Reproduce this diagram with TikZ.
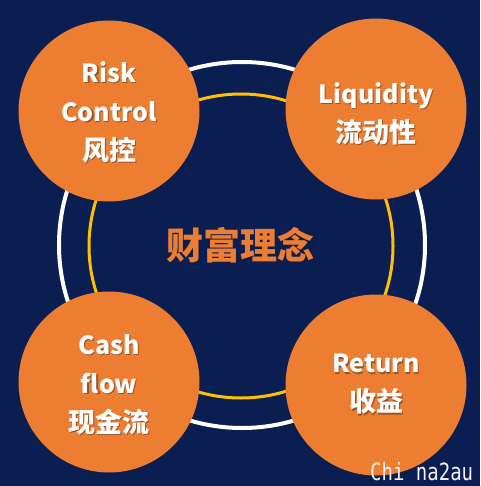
\documentclass[tikz,border=0pt]{standalone}
\usepackage{fontspec}
\setmainfont{Noto Sans CJK SC}
\newfontfamily\wmfont{DejaVu Sans Mono}
\definecolor{navy}{HTML}{0B1E52}
\definecolor{orangefill}{HTML}{ED7D31}
\definecolor{goldring}{HTML}{FFC000}
\definecolor{wmgray}{HTML}{F2F2F2}
\definecolor{shadowc}{HTML}{9C5425}
\newcommand\shd[1]{\rlap{\kern1.2pt\raisebox{-1.2pt}{\textcolor{shadowc}{#1}}}#1}
\newcommand\cjkline[1]{{\fontsize{27}{39}\selectfont\shd{#1}}}
\begin{document}
\begin{tikzpicture}[x=1pt,y=-1pt,
  ball/.style={circle,fill=orangefill,minimum size=181pt,inner sep=0pt},
  balltext/.style={text=white,font=\bfseries\fontsize{25}{39}\selectfont,align=center},
  centertext/.style={text=orangefill,font=\bfseries\fontsize{37}{40}\selectfont},
  watermark/.style={text=wmgray,font=\wmfont\fontsize{19}{20}\selectfont,anchor=base west,inner sep=0pt}]
\fill[navy] (0,0) rectangle (480,486);
\useasboundingbox (0,0) rectangle (480,486);
\draw[white,line width=4pt] (242,245) circle (183);
\draw[goldring,line width=3pt] (241,246) circle (152);
\node[ball] (rc) at (109,111) {};
\node[ball] (lq) at (376,109) {};
\node[ball] (cf) at (109,382) {};
\node[ball] (rt) at (376,385) {};
\node[balltext] (rct) at (109,113) {\shd{Risk}\\\shd{Control}\\\cjkline{风控}};
\node[balltext] (lqt) at (376,114) {\shd{Liquidity}\\\cjkline{流动性}};
\node[balltext] (cft) at (109,385) {\shd{Cash}\\\shd{flow}\\\cjkline{现金流}};
\node[balltext] (rtt) at (376,385) {\shd{Return}\\\cjkline{收益}};
\node[centertext] (ct) at (240,245) {财富理念};
\node[watermark] (wm) at (370,480) {\scalebox{1}[1.25]{Chi na2au}};
\end{tikzpicture}
\end{document}
